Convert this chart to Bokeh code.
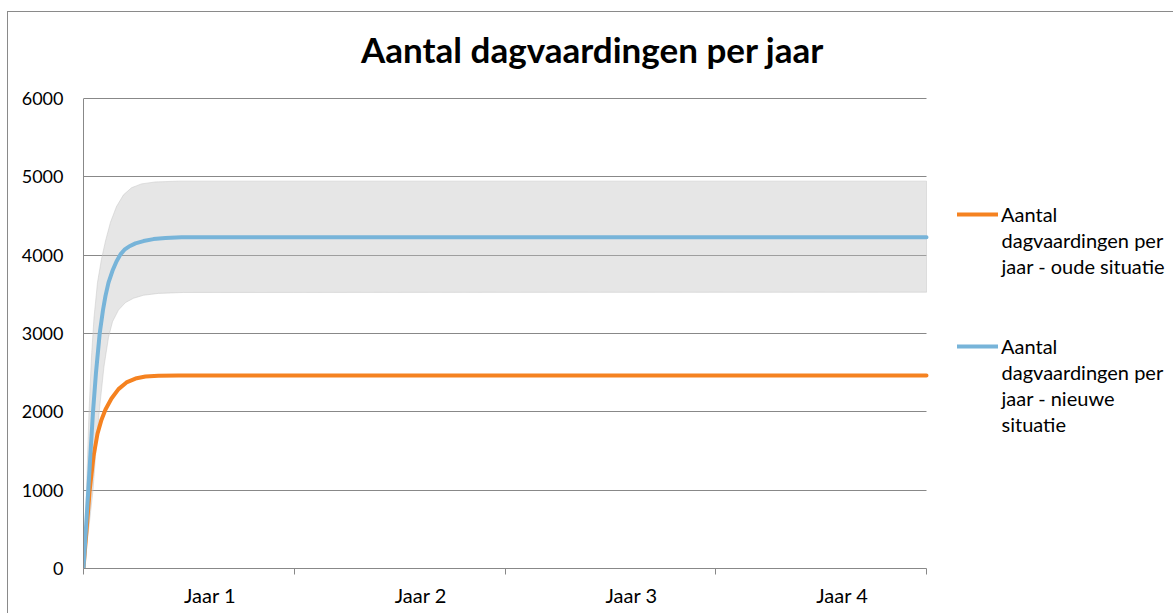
from bokeh.plotting import figure
from bokeh.models import FixedTicker, Legend, LegendItem, Label, Range1d
from bokeh.embed import file_html
from bokeh.resources import INLINE

# ---------------- data ----------------
title_text = "Aantal dagvaardingen per jaar"
year_labels = ["Jaar 1", "Jaar 2", "Jaar 3", "Jaar 4"]
year_label_pos = [0.6, 1.6, 2.6, 3.6]
year_bounds = [0, 1, 2, 3, 4]
y_ticks = [0, 1000, 2000, 3000, 4000, 5000, 6000]

series_first = ["Aantal", "Aantal"]
series_rest = [
    ["dagvaardingen per", "jaar - oude situatie"],
    ["dagvaardingen per", "jaar - nieuwe", "situatie"],
]

# oude situatie (orange), x in years
old_x = [0, 0.0142, 0.0294, 0.0474, 0.0664, 0.0854, 0.1043, 0.1328, 0.166, 0.2039,
         0.2466, 0.294, 0.3557, 0.4505, 4.0]
old_y = [0, 480, 1000, 1430, 1720, 1900, 2030, 2170, 2290, 2375,
         2425, 2450, 2460, 2465, 2465]

# nieuwe situatie (blue)
new_x = [0, 0.0114, 0.0228, 0.0337, 0.0451, 0.0593, 0.0768, 0.0925, 0.1043, 0.1186,
         0.1375, 0.1565, 0.1755, 0.1944, 0.2158, 0.2466, 0.2845, 0.332, 0.3889, 0.4647,
         0.6165, 4.0]
new_y = [0, 500, 1000, 1500, 2000, 2500, 3000, 3300, 3480, 3650,
         3800, 3920, 4010, 4070, 4110, 4150, 4180, 4205, 4220, 4228,
         4230, 4230]

# band around nieuwe situatie
band_upper_x = [0, 0.0142, 0.0261, 0.0379, 0.0498, 0.0664, 0.0854, 0.1043, 0.128, 0.1565,
                0.1897, 0.2276, 0.275, 0.3414, 0.4505, 4.0]
band_upper_y = [0, 1000, 2000, 2700, 3200, 3650, 3950, 4180, 4420, 4620,
                4770, 4860, 4910, 4935, 4945, 4945]
band_lower_x = [0, 0.0237, 0.0451, 0.0616, 0.0782, 0.0972, 0.1186, 0.1375, 0.166, 0.1992,
                0.2371, 0.2845, 0.3557, 0.4742, 4.0]
band_lower_y = [0, 480, 1000, 1600, 2100, 2580, 2950, 3150, 3300, 3395,
                3450, 3488, 3512, 3524, 3527]

# ---------------- layout / styling ----------------
ORANGE = "#F58220"
BLUE = "#77B4D9"
GRID = "#888888"
FONT = "Lato"

W, H = 1166, 602
ML, MB = 75, 46          # frame left / bottom borders (px)
PX_PER_YEAR = 843 / 4    # plotted span 0..4 years
PX_PER_UNIT = 470 / 6000 # plotted span 0..6000
X_END = (W - ML) / PX_PER_YEAR
Y_END = (H - MB) / PX_PER_UNIT

p = figure(
    width=W, height=H,
    x_range=Range1d(0, X_END), y_range=Range1d(0, Y_END),
    output_backend="svg", toolbar_location=None,
    min_border_left=ML, min_border_right=0, min_border_top=0, min_border_bottom=MB,
    outline_line_color=None,
    background_fill_color="white", border_fill_color="white",
    styles={"border-top": "1px solid #8a8a8a", "border-left": "1px solid #8a8a8a",
            "margin-top": "11px", "margin-left": "7px"},
)

# band
p.patch(
    x=band_upper_x + band_lower_x[::-1],
    y=band_upper_y + band_lower_y[::-1],
    fill_color="#c0c0c0", fill_alpha=0.4,
    line_color="#c8c8c8", line_alpha=0.5, line_width=1,
)

r_old = p.line(old_x, old_y, line_color=ORANGE, line_width=4, line_cap="round", line_join="round")
r_new = p.line(new_x, new_y, line_color=BLUE, line_width=4, line_cap="round", line_join="round")

# x axis
xa = p.xaxis[0]
xa.bounds = (year_bounds[0], year_bounds[-1])
xa.ticker = FixedTicker(ticks=year_label_pos, minor_ticks=year_bounds)
xa.major_label_overrides = dict(zip(year_label_pos, year_labels))
xa.major_tick_line_color = None
xa.major_tick_out = 0
xa.major_tick_in = 0
xa.minor_tick_line_color = GRID
xa.minor_tick_out = 6
xa.minor_tick_in = 0
xa.axis_line_color = GRID
xa.major_label_standoff = 8
xa.major_label_text_font = FONT
xa.major_label_text_font_size = "20px"
xa.major_label_text_color = "black"

# y axis
ya = p.yaxis[0]
ya.bounds = (y_ticks[0], y_ticks[-1])
ya.ticker = FixedTicker(ticks=y_ticks)
ya.major_tick_line_color = None
ya.major_tick_out = 0
ya.major_tick_in = 0
ya.minor_tick_line_color = None
ya.axis_line_color = GRID
ya.major_label_standoff = 20
ya.major_label_text_font = FONT
ya.major_label_text_font_size = "18px"
ya.major_label_text_color = "black"

p.xgrid.visible = False
yg = p.ygrid[0]
yg.grid_line_color = GRID
yg.grid_line_width = 1
try:
    yg.cross_bounds = (year_bounds[0], year_bounds[-1])
except Exception:
    yg.visible = False
    p.segment(x0=year_bounds[0], x1=year_bounds[-1], y0=y_ticks, y1=y_ticks,
              line_color=GRID, line_width=1, level="underlay")

# title (screen units relative to the frame's bottom-left)
p.add_layout(Label(
    x=509, y=520, x_units="screen", y_units="screen",
    text=title_text, text_align="center", text_baseline="alphabetic",
    text_font=FONT, text_font_style="bold", text_font_size="35px", text_color="black",
))

# legend: glyph + first line, continuation lines below
legend = Legend(
    items=[
        LegendItem(label=series_first[0], renderers=[r_old]),
        LegendItem(label=series_first[1], renderers=[r_new]),
    ],
    location=(874, 209), orientation="vertical",
    glyph_width=41, glyph_height=26, label_height=26, label_standoff=3, spacing=106,
    padding=0, margin=0, border_line_color=None, background_fill_alpha=0,
    label_text_font=FONT, label_text_font_size="20px",
    label_text_color="black",
)
p.add_layout(legend)

LINE_STEP = 25.7
for lines, y_first in zip(series_rest, [568 - 214, 568 - 346]):
    for k, txt in enumerate(lines, start=1):
        p.add_layout(Label(
            x=918, y=y_first - k * LINE_STEP, x_units="screen", y_units="screen",
            text=txt, text_align="left", text_baseline="middle",
            text_font=FONT, text_font_size="20px", text_color="black",
        ))

open("out.html", "w").write(file_html(p, INLINE))
